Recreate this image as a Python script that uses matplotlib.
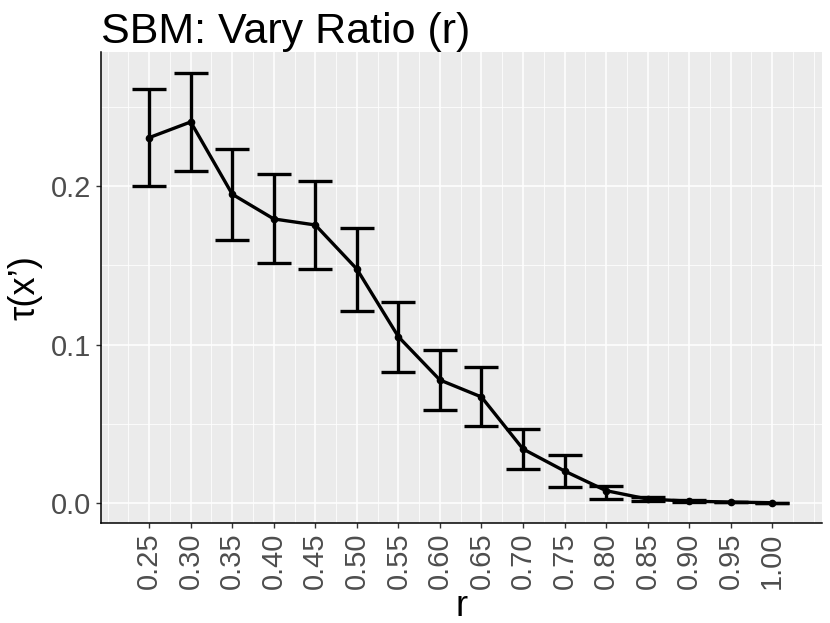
import numpy as np
import matplotlib.pyplot as plt
from matplotlib.ticker import MultipleLocator

# SBM: vary ratio r, mean tau with error bars

r = [0.25, 0.30, 0.35, 0.40, 0.45, 0.50, 0.55, 0.60,
     0.65, 0.70, 0.75, 0.80, 0.85, 0.90, 0.95, 1.00]
tau = [0.2305, 0.2404, 0.1948, 0.1792, 0.1754, 0.1476, 0.1049, 0.0776,
       0.0669, 0.0341, 0.0202, 0.0078, 0.0025, 0.0012, 0.0006, 0.0002]
upper = [0.2610, 0.2711, 0.2233, 0.2078, 0.2032, 0.1732, 0.1270, 0.0965,
         0.0858, 0.0467, 0.0303, 0.0107, 0.0038, 0.0016, 0.0008, 0.0003]
lower = [0.2002, 0.2097, 0.1659, 0.1513, 0.1474, 0.1213, 0.0828, 0.0584,
         0.0485, 0.0213, 0.0101, 0.0027, 0.0013, 0.0008, 0.0004, 0.0001]
tick_labels = ['0.25', '0.30', '0.35', '0.40', '0.45', '0.50', '0.55', '0.60',
               '0.65', '0.70', '0.75', '0.80', '0.85', '0.90', '0.95', '1.00']

plt.rcParams['font.family'] = ['Liberation Sans', 'DejaVu Sans']

fig = plt.figure(figsize=(8.3, 6.23), dpi=100)
ax = fig.add_axes([0.1217, 0.1605, 0.8687, 0.756])

tau = np.array(tau)
yerr = [tau - np.array(lower), np.array(upper) - tau]

ax.errorbar(r, tau, yerr=yerr, color='black', linewidth=2.4,
            elinewidth=2.4, capsize=12.5, capthick=2.4,
            marker='o', markersize=4.5, zorder=3)

# ggplot-like panel
ax.set_facecolor('#EBEBEB')
ax.set_xlim(0.192, 1.06)
ax.set_ylim(-0.0126, 0.2845)
ax.set_xticks(r)
ax.set_xticklabels(tick_labels, rotation=90)
ax.set_yticks([0.0, 0.1, 0.2])
ax.set_yticklabels(['0.0', '0.1', '0.2'])
ax.xaxis.set_minor_locator(MultipleLocator(0.025))
ax.yaxis.set_minor_locator(MultipleLocator(0.05))
ax.grid(which='major', color='white', linewidth=1.1)
ax.grid(which='minor', color='white', linewidth=0.55)
ax.set_axisbelow(True)

for side in ['top', 'right']:
    ax.spines[side].set_visible(False)
for side in ['left', 'bottom']:
    ax.spines[side].set_color('black')
    ax.spines[side].set_linewidth(1.1)

ax.tick_params(which='major', length=3.5, width=1.0, color='#333333',
               labelcolor='#4D4D4D', labelsize=21)
ax.tick_params(which='minor', length=0)

ax.set_xlabel('r', fontsize=26, labelpad=0)
ax.set_ylabel("τ(x’)", fontsize=26, labelpad=6)
ax.set_title('SBM: Vary Ratio (r)', fontsize=31, loc='left', pad=5)

fig.savefig('out.png', dpi=100)
